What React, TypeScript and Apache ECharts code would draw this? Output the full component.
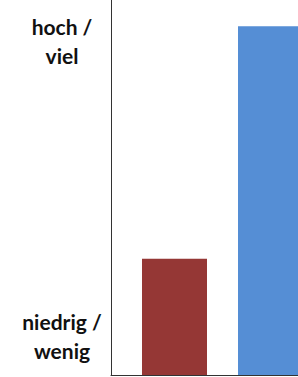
import React, { useEffect, useRef } from "react";
import * as echarts from "echarts";

const categories = [""];
const lowSeries = [31];
const highSeries = [93];
const yLabelValues = [10.5, 89];
const yLabelTexts = ["niedrig /\nwenig", "hoch /\nviel"];

export default function App() {
  const ref = useRef<HTMLDivElement>(null);
  useEffect(() => {
    if (!ref.current) return;
    const chart = echarts.init(ref.current, null, { renderer: "svg" });
    chart.setOption({
      animation: false,
      backgroundColor: "#ffffff",
      grid: { left: 111, top: 0, bottom: 2, right: 0, containLabel: false },
      xAxis: {
        type: "category",
        data: categories,
        axisTick: { show: false },
        axisLabel: { show: false },
        axisLine: { show: true, lineStyle: { color: "#333333", width: 1 } },
        splitLine: { show: false },
      },
      yAxis: {
        type: "value",
        min: 0,
        max: 100,
        axisLine: { show: true, lineStyle: { color: "#333333", width: 1 } },
        axisTick: { show: false },
        splitLine: { show: false },
        axisLabel: {
          customValues: yLabelValues,
          formatter: (v: number) => {
            const i = yLabelValues.indexOf(v);
            return i >= 0 ? yLabelTexts[i] : "";
          },
          align: "center",
          margin: 49,
          fontFamily: "Lato",
          fontWeight: "bold",
          fontSize: 21,
          lineHeight: 29,
          color: "#111111",
        },
      },
      series: [
        {
          type: "bar",
          data: lowSeries,
          barWidth: 65,
          barGap: "47.7%",
          itemStyle: { color: "#953735" },
        },
        {
          type: "bar",
          data: highSeries,
          barWidth: 65,
          itemStyle: { color: "#558ED5" },
        },
      ],
    });
    return () => chart.dispose();
  }, []);
  return (
    <div
      style={{
        position: "fixed",
        left: 0,
        top: 0,
        width: 298,
        height: 377,
        overflow: "hidden",
        background: "#fff",
      }}
    >
      <div ref={ref} style={{ width: 334, height: 377 }} />
    </div>
  );
}
